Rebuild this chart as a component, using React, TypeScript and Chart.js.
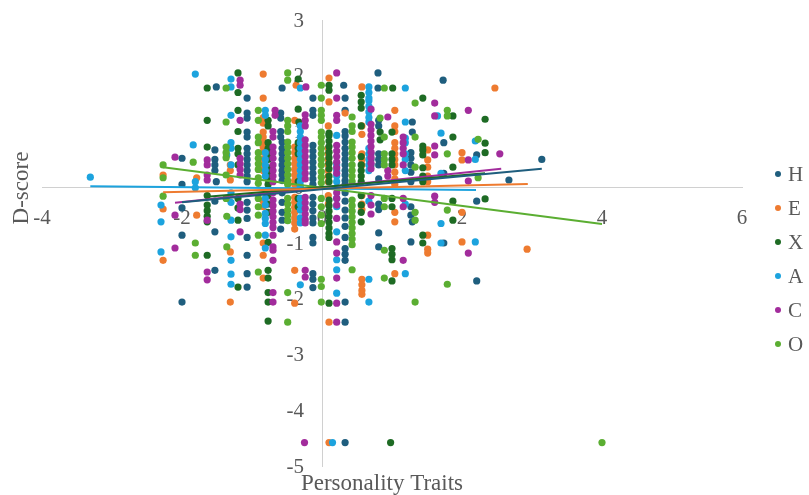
import { useEffect, useRef } from "react";
import { Chart, registerables } from "chart.js";

Chart.register(...registerables);

const FONT = "'Liberation Serif', 'Times New Roman', serif";
const TEXT_COLOR = "#595959";

const seriesNames = ["H", "E", "X", "A", "C", "O"];
const seriesColors = ["#1F5E7E", "#EE7B30", "#1E6B24", "#1CA3DE", "#A22C9C", "#5BAE32"];

const xTicks = [-4, -2, 0, 2, 4, 6];
const yTicks = [-5, -4, -3, -2, -1, 0, 1, 2, 3];

const xTitle = "Personality Traits";
const yTitle = "D-score";

const pointsH: number[][] = [
  [-1.51, 1.8], [-0.57, 1.78], [0.31, 1.83], [0.8, 2.05], [0.8, 1.78], [1.73, 1.92],
  [-0.13, 1.6], [-0.13, 1.38], [-0.13, 1.29], [-1.07, 1.33], [-1.07, 1.24], [-0.59, 1.33], [-0.59, 1.24],
  [1.29, 1.17], [1.29, 0.99], [0.33, 1.38], [0.81, 1.2], [0.81, 1.1], [-1.07, 0.99], [-1.07, 0.9],
  [-1.07, 0.7], [-1.07, 0.6], [-1.07, 0.5], [-1.07, 0.4], [-1.07, 0.3],
  [-0.57, 0.81], [-0.57, 0.7], [-0.57, 0.6], [-0.57, 0.5], [-0.57, 0.4], [-0.57, 0.3], [-0.57, 0.22],
  [-0.13, 0.75], [-0.13, 0.65], [-0.13, 0.55], [-0.13, 0.45], [-0.13, 0.35], [-0.13, 0.25],
  [0.33, 0.81], [0.33, 0.7], [0.33, 0.6], [0.33, 0.5], [0.33, 0.4], [0.33, 0.3], [0.33, 0.22],
  [0.7, 0.6], [0.7, 0.5], [0.7, 0.4],
  [1.27, 0.62], [1.27, 0.52], [1.27, 0.4], [1.27, 0.27],
  [-2.0, 0.52], [-1.53, 0.67], [1.74, 0.25], [2.21, 0.58], [2.67, 0.13], [3.14, 0.5], [1.74, 0.8],
  [-1.51, 0.1], [0.81, 0.15],
  [-0.57, -0.27], [-0.57, -0.45], [-0.57, -0.59],
  [-0.13, -0.18], [-0.13, -0.3], [-0.13, -0.42], [-0.13, -0.55], [-0.13, -0.64],
  [0.33, -0.41], [0.33, -0.55], [0.33, -0.7], [0.33, -1.1], [0.33, -1.2], [0.33, -1.31],
  [-2.0, -0.37], [-2.0, -0.86], [-2.0, -2.06], [-1.53, -0.8], [-1.53, -1.49],
  [-1.07, -0.27], [-1.07, -0.41], [-1.07, -0.56], [-1.07, -1.22], [-1.07, -1.55], [-1.07, -1.79],
  [0.81, -0.82], [0.81, -1.07], [1.27, -0.98], [1.29, -0.62], [1.74, -1.0], [2.21, -1.68],
  [-0.13, -1.55], [-0.13, -1.65], [-0.13, -1.8], [0.33, -2.06], [0.33, -2.42], [0.33, -4.58],
  [-1.53, 0.5], [-1.53, 0.4], [-1.53, 0.3], [-0.57, 0.12], [-0.13, 0.15], [-0.13, 0.05], [0.33, 0.12], [0.33, 0.05],
  [-1.07, 0.2], [-1.07, 0.1], [0.81, 0.6], [0.81, 0.5], [0.81, 0.4], [-0.59, 1.0], [-0.59, 0.9], [0.33, 1.0], [0.33, 0.92],
  [-1.07, 1.6], [0.33, 1.6], [1.27, 0.1], [-0.57, -0.1], [0.33, -0.1], [0.33, -0.25], [-1.53, -0.25], [0.81, -0.3],
  [0.81, -0.4], [-0.59, -0.75], [-0.13, -0.9], [-0.13, -1.0], [0.33, -0.9], [-1.07, -0.9], [1.27, -0.35], [1.27, -0.5],
  [2.21, -0.25], [-2.0, 0.05],
];

const pointsE: number[][] = [
  [-0.84, 2.03], [-0.37, 1.83], [0.1, 1.96], [0.57, 1.8], [2.47, 1.78], [-0.84, 1.6], [0.1, 1.53], [0.33, 1.33], [1.04, 1.38],
  [-0.84, 0.99], [-0.84, 0.9], [-0.84, 0.81], [-0.84, 0.72], [-0.84, 0.63],
  [-1.31, 0.72],
  [-0.39, 0.72], [-0.39, 0.62], [-0.39, 0.52], [-0.39, 0.42], [-0.39, 0.32], [-0.39, 0.22],
  [0.09, 0.7], [0.09, 0.6], [0.09, 0.5], [0.09, 0.4], [0.09, 0.3],
  [1.04, 0.8], [1.04, 0.7], [1.04, 0.6], [1.04, 0.5], [1.04, 0.4], [1.04, 0.27],
  [1.51, 0.67], [1.51, 0.49], [1.51, 0.36], [2.0, 0.62], [2.0, 0.49],
  [-2.27, 0.22], [-2.27, -0.39], [-2.27, -1.31], [-1.79, 0.17], [-1.31, 0.13], [2.93, -1.11],
  [-0.39, -0.18], [-0.39, -0.27], [-0.39, -0.36], [-0.39, -0.45], [-0.39, -0.55], [-0.39, -0.64], [-0.39, -1.49], [-0.39, -2.08],
  [-0.84, -1.0], [-0.84, -1.22], [-0.84, -1.63],
  [-1.31, -1.16], [-1.31, -2.06],
  [0.57, -1.65], [0.57, -1.75], [0.57, -1.85], [0.57, -1.92],
  [1.04, -1.55], [1.04, -0.45], [1.04, -0.62],
  [1.51, -0.86], [1.51, -1.11], [1.51, -1.18],
  [2.0, -0.45], [2.0, -0.98],
  [0.1, -2.42], [0.1, -4.58], [0.57, -0.3], [0.57, -0.4],
  [0.57, 1.1], [0.57, 0.95], [-0.39, 1.2], [0.09, 1.1],
  [-0.84, 0.5], [-0.84, 0.4], [-0.84, 0.3], [-0.39, 0.12], [-0.39, 0.05], [0.09, 0.2], [0.09, 0.1], [1.04, 0.15],
  [1.04, 0.05], [-1.31, 0.4], [-1.31, 0.3], [0.57, 0.6], [0.57, 0.5], [0.57, 0.4], [-0.84, 1.15], [-0.84, 1.25],
  [1.04, 1.1], [1.04, 1.0], [-0.39, -0.75], [-0.84, -0.25], [-0.84, -0.35], [0.09, -0.15], [0.09, -0.3], [0.57, -0.15],
  [1.51, 0.2], [1.51, 0.1], [-1.79, -0.5],
];

const pointsX: number[][] = [
  [-1.2, 2.05], [-0.34, 1.94], [-1.64, 1.78], [0.1, 1.83], [0.1, 1.74], [1.01, 1.78], [1.44, 1.6], [-1.2, 1.38], [-1.64, 1.2],
  [0.56, 1.53], [0.56, 1.42], [-0.33, 1.17], [1.87, 1.28], [2.33, 1.22], [0.1, 0.97], [0.83, 0.99], [0.83, 0.85], [1.0, 0.99], [1.87, 0.9], [2.33, 0.79],
  [-0.77, 0.8], [-0.77, 0.7], [-0.77, 0.6], [-0.77, 0.5], [-0.77, 0.35],
  [0.1, 0.93], [0.1, 0.83], [0.1, 0.73], [0.1, 0.63], [0.1, 0.53],
  [0.56, 0.55], [0.56, 0.4], [1.44, 0.74], [1.44, 0.67], [1.44, 0.58], [1.44, 0.35],
  [-1.64, 0.72], [-1.2, 0.4], [1.87, 0.36], [2.33, 0.62],
  [-1.64, -0.32], [-1.64, -0.42], [-1.64, -0.52], [-1.64, -0.62], [-1.64, -1.22],
  [-1.2, -0.37], [-1.2, -0.59], [-1.2, -1.79],
  [0.1, -0.23], [0.1, -0.33], [0.1, -0.43], [0.1, -0.53], [0.1, -0.63], [0.1, -0.73], [0.1, -0.83], [0.1, -0.9], [0.1, -2.08],
  [0.56, -0.32], [0.56, -0.45], [0.56, -0.62],
  [1.0, -1.1], [1.0, -1.2], [1.0, -1.3], [1.0, -1.68],
  [-0.77, -0.99], [-0.77, -1.49], [-0.77, -1.63], [-0.77, -1.89], [-0.77, -2.06], [-0.77, -2.4],
  [1.87, -0.25], [1.87, -0.59], [2.33, -0.21], [1.44, -0.86], [1.44, -1.0], [0.98, -4.58],
  [-0.34, 1.4], [-0.34, 0.1], [0.56, 1.1], [-1.2, 1.0],
  [-0.77, 0.25], [-0.77, 0.15], [-0.77, 0.05], [0.1, 0.43], [0.1, 0.33], [0.1, 0.2], [0.1, 0.1], [0.56, 0.3],
  [0.56, 0.2], [0.56, 0.1], [-1.2, 0.6], [-1.2, 0.7], [-0.34, 0.8], [-0.34, 0.7], [-0.34, 0.6], [1.0, 0.6],
  [1.0, 0.5], [1.0, 0.4], [1.44, 0.2], [1.44, 0.1], [-0.77, 1.2], [-0.77, 1.1], [-1.2, 1.7], [0.56, 1.65],
  [-0.77, -0.15], [-0.77, -0.3], [-0.77, -0.45], [-0.34, -0.2], [-0.34, -0.35], [0.56, -0.15], [1.0, -0.2], [1.0, -0.35],
  [-1.64, -0.15], [-1.2, -0.2],
];

const pointsA: number[][] = [
  [-1.81, 2.03], [-1.3, 1.94], [-0.31, 1.78], [1.19, 1.78], [0.67, 1.6], [-1.3, 1.29], [-0.81, 1.38], [-0.81, 1.29], [1.19, 1.17], [1.7, 0.97], [2.19, 0.83], [1.65, 1.28], [-1.84, 0.76], [-1.36, 0.58], [-3.31, 0.18], [-1.81, -0.01],
  [0.67, 1.55], [0.67, 1.45], [0.67, 1.35], [0.67, 1.25], [0.67, 1.17],
  [-0.31, 0.9], [-0.31, 0.8], [-0.31, 0.7], [-0.31, 0.6], [-0.31, 0.5], [-0.31, 0.4], [-0.31, 0.3], [-0.31, 0.2], [-0.31, 0.1],
  [-0.81, 0.62], [-0.81, 0.5], [0.21, 0.93], [1.19, 0.88], [1.19, 0.8], [2.19, 0.5],
  [-2.3, -0.32], [-2.3, -0.62], [-2.3, -1.16],
  [-1.3, -0.27], [-1.3, -0.59], [-1.3, -0.89], [-1.3, -1.31], [-1.3, -1.56], [-1.3, -1.74],
  [-0.81, -0.47], [-0.81, -0.56], [-0.81, -0.65], [-0.81, -0.86], [-0.81, -1.09],
  [-0.31, -0.41], [-0.31, -0.55], [-0.31, -0.64], [-0.31, -1.75],
  [0.21, -0.8], [0.21, -1.3], [0.21, -1.48], [0.21, -1.9],
  [0.67, -1.65], [0.67, -2.06], [1.19, -1.55], [1.7, -0.65], [1.7, -1.0], [2.19, -0.98], [0.15, -4.58],
  [0.67, 0.7], [0.67, 0.6], [0.21, 0.4], [0.21, 0.3], [1.7, 0.25],
  [-0.81, 0.4], [-0.81, 0.3], [-0.81, 0.2], [-0.31, 0.02], [0.21, 0.2], [0.21, 0.1], [0.67, 0.5], [0.67, 0.4],
  [0.67, 0.3], [1.19, 0.6], [1.19, 0.5], [1.19, 0.3], [-1.3, 0.8], [-1.3, 0.7], [-1.3, 0.4], [-0.31, 1.0],
  [-0.31, 1.1], [-1.3, 1.8], [0.67, 1.7], [0.67, 1.8], [-0.81, -0.2], [-0.81, -0.32], [-0.31, -0.2], [-0.31, -0.3],
  [0.21, -0.2], [0.21, -0.35], [0.67, -0.25], [1.19, -0.3], [-1.3, -0.1], [-1.81, 0.1],
];

const pointsC: number[][] = [
  [-1.17, 1.92], [-1.17, 1.83], [-0.23, 1.8], [0.21, 2.05], [0.21, 1.6], [-0.67, 1.38], [-0.67, 1.29], [-1.17, 1.2], [1.61, 1.51], [1.61, 1.28], [2.09, 1.38], [0.94, 1.26], [0.21, 1.29], [0.21, 1.2], [2.54, 0.6], [2.09, 0.49], [2.09, 0.11], [1.61, 0.74], [1.61, 0.58], [-2.1, 0.54], [-1.64, 0.49], [-1.64, 0.4], [-1.64, 0.22], [-1.64, 0.13],
  [-0.24, 0.85], [-0.24, 0.75], [-0.24, 0.65], [-0.24, 0.55], [-0.24, 0.45],
  [0.21, 0.75], [0.21, 0.65], [0.21, 0.55],
  [0.7, 1.03], [0.7, 0.93], [0.7, 0.83], [0.7, 0.73], [0.7, 0.63],
  [1.16, 0.7], [1.16, 0.6], [1.16, 0.4], [0.94, 0.3], [0.94, 0.2],
  [-0.7, 0.72], [-0.7, 0.62], [-0.7, 0.52], [-0.7, 0.4], [-1.17, 0.52], [-1.17, 0.42],
  [-0.24, -0.18], [-0.24, -0.28], [-0.24, -0.38], [-0.24, -0.48], [-0.24, -0.58], [-0.24, -0.64], [-0.24, -1.49], [-0.24, -1.61],
  [-0.7, -0.23], [-0.7, -0.33], [-0.7, -0.43], [-0.7, -0.53], [-0.7, -0.63], [-0.7, -0.72], [-0.7, -0.86], [-0.7, -1.07], [-0.7, -1.13], [-0.7, -1.31], [-0.7, -1.89], [-0.7, -2.06],
  [-1.64, -0.59], [-1.64, -1.52], [-1.64, -1.66], [-2.1, -0.5], [-2.1, -1.09], [-1.17, -0.8],
  [0.21, -0.32], [0.21, -0.56], [0.21, -0.98], [0.21, -1.18], [0.21, -1.63], [0.21, -2.08], [0.21, -2.42],
  [0.7, -0.32], [0.7, -0.48], [1.16, -1.31], [1.61, -0.16], [1.61, -0.27], [2.09, -1.18], [-0.25, -4.58],
  [-0.24, 0.35], [-0.24, 0.25], [-0.24, 0.15], [0.21, 0.45], [0.21, 0.35], [0.21, 0.25], [0.7, 0.53], [0.7, 0.43],
  [0.7, 0.33], [-0.7, 0.3], [-0.7, 0.2], [-0.7, 0.1], [-1.17, 0.32], [-1.17, 0.22], [1.16, 0.8], [1.16, 0.9],
  [-0.24, 1.2], [-0.24, 1.1], [-0.24, 1.3], [0.7, 1.13], [0.7, 1.4], [-0.7, 1.0], [-0.7, 0.9], [0.21, -0.1],
  [0.21, -0.2], [-0.7, -0.1], [0.7, -0.15], [1.16, -0.2], [1.16, -0.35], [-1.17, -0.3], [-1.17, -0.4],
];

const pointsO: number[][] = [
  [-0.49, 2.05], [-0.49, 1.92], [-1.37, 1.78], [-0.01, 1.83], [0.89, 1.78], [-0.91, 1.38], [-1.37, 1.17], [-0.91, 1.2], [-0.01, 1.6], [0.43, 1.26], [0.83, 1.24], [1.33, 1.51], [1.79, 1.38], [1.79, 1.28], [2.23, 0.86], [-2.27, 0.4], [-1.84, 0.45], [-1.37, 0.22], [-2.27, -0.16], [-2.27, 0.17],
  [-0.49, 0.81], [-0.49, 0.72], [-0.49, 0.62], [-0.49, 0.52], [-0.49, 0.42], [-0.49, 0.32], [-0.49, 0.22],
  [-0.01, 1.38], [-0.01, 1.29], [-0.01, 1.2], [-0.01, 0.99], [-0.01, 0.9], [-0.01, 0.8], [-0.01, 0.7], [-0.01, 0.6], [-0.01, 0.5], [-0.01, 0.4], [-0.01, 0.28],
  [0.43, 0.81], [0.43, 0.72], [0.43, 0.62], [0.43, 0.52], [0.43, 0.4],
  [-0.91, 0.62], [-0.91, 0.52], [-0.91, 0.42], [-0.91, 0.32], [-0.91, 0.17],
  [-1.37, 0.53], [0.89, 0.9], [1.79, 0.6], [1.33, 0.36], [2.23, 0.17],
  [-0.49, -0.41], [-0.49, -0.5], [-0.49, -0.6], [-0.49, -1.89], [-0.49, -2.42],
  [-0.01, -0.2], [-0.01, -0.35], [-0.01, -1.65], [-0.01, -1.78], [-0.01, -2.06],
  [0.43, -0.23], [0.43, -0.33], [0.43, -0.43], [0.43, -0.53], [0.43, -0.63], [0.43, -0.73], [0.43, -0.83], [0.43, -0.93], [0.43, -1.03], [0.43, -1.48],
  [-0.91, -0.5], [-0.91, -0.86], [-0.91, -1.52], [-1.81, -1.0], [-1.81, -1.22], [-1.36, -0.52], [-1.36, -1.07],
  [0.89, -1.13], [0.89, -1.63], [1.33, -0.45], [1.33, -0.59], [1.33, -2.06], [1.79, -0.41], [1.79, -1.74], [4.0, -4.58],
  [-0.49, 0.12], [-0.49, 0.05], [-0.01, 0.18], [-0.01, 0.08], [0.43, 0.3], [0.43, 0.2], [0.43, 0.1], [-0.91, 0.07],
  [-1.37, 0.62], [-1.37, 0.72], [0.89, 0.6], [0.89, 0.5], [0.89, 0.4], [-0.49, 1.0], [-0.49, 1.1], [-0.49, 1.2],
  [0.43, 1.0], [0.43, 1.1], [-0.91, 0.8], [-0.91, 0.9], [-0.49, -0.2], [-0.49, -0.3], [-0.01, -0.5], [-0.01, -0.65],
  [-0.91, -0.2], [-0.91, -0.35], [0.89, -0.2], [0.89, -0.35], [-1.37, -0.2], [1.33, 0.9],
];

// Linear trendline endpoints: [x, y] start and end
const trendH: number[][] = [[-2.0, -0.27], [3.14, 0.33]];
const trendE: number[][] = [[-2.27, -0.09], [2.94, 0.06]];
const trendX: number[][] = [[-1.64, -0.17], [2.33, 0.25]];
const trendA: number[][] = [[-3.31, 0.02], [2.2, -0.05]];
const trendC: number[][] = [[-2.1, -0.28], [2.56, 0.33]];
const trendO: number[][] = [[-2.27, 0.36], [4.0, -0.66]];

const allPoints = [pointsH, pointsE, pointsX, pointsA, pointsC, pointsO];
const allTrends = [trendH, trendE, trendX, trendA, trendC, trendO];

const toXY = (arr: number[][]) => arr.map(([x, y]) => ({ x, y }));

const labelsPlugin = {
  id: "customLabels",
  beforeDatasetsDraw(chart: any) {
    const { ctx, scales } = chart;
    const xs = scales.x;
    const ys = scales.y;
    const x0 = xs.getPixelForValue(0);
    const y0 = ys.getPixelForValue(0);
    ctx.save();
    ctx.fillStyle = TEXT_COLOR;
    ctx.font = `21px ${FONT}`;
    ctx.textAlign = "right";
    ctx.textBaseline = "middle";
    yTicks.forEach((v) => ctx.fillText(String(v), x0 - 18, ys.getPixelForValue(v) + 1));
    ctx.textAlign = "center";
    xTicks.forEach((v) => ctx.fillText(String(v), xs.getPixelForValue(v), y0 + 31));
    ctx.font = `23px ${FONT}`;
    ctx.fillText(xTitle, 382, 484);
    ctx.translate(22, 188);
    ctx.rotate(-Math.PI / 2);
    ctx.fillText(yTitle, 0, 0);
    ctx.restore();
  },
  afterDraw(chart: any) {
    const { ctx } = chart;
    ctx.save();
    ctx.font = `21px ${FONT}`;
    ctx.textAlign = "left";
    ctx.textBaseline = "middle";
    seriesNames.forEach((name, i) => {
      const cy = 174 + i * 34;
      ctx.fillStyle = seriesColors[i];
      ctx.beginPath();
      ctx.arc(778, cy, 3, 0, Math.PI * 2);
      ctx.fill();
      ctx.fillStyle = TEXT_COLOR;
      ctx.fillText(name, 788, cy + 1);
    });
    ctx.restore();
  },
};

export default function App() {
  const canvasRef = useRef<HTMLCanvasElement | null>(null);

  useEffect(() => {
    document.body.style.margin = "0";
    const canvas = canvasRef.current;
    if (!canvas) return;

    const pointSets: any[] = allPoints.map((pts, i) => ({
      type: "scatter",
      label: seriesNames[i],
      data: toXY(pts),
      backgroundColor: seriesColors[i],
      borderWidth: 0,
      pointRadius: 3.6,
      pointHoverRadius: 3.6,
      order: 10 - i,
    }));
    const trendSets: any[] = allTrends.map((t, i) => ({
      type: "line",
      label: seriesNames[i] + " trend",
      data: toXY(t),
      borderColor: seriesColors[i],
      borderWidth: 2,
      pointRadius: 0,
      fill: false,
      showLine: true,
      order: 0,
    }));

    const chart = new Chart(canvas, {
      type: "scatter",
      data: { datasets: [...trendSets, ...pointSets] },
      options: {
        animation: false,
        responsive: false,
        layout: { padding: { left: 42, right: 67, top: 20, bottom: 29 } },
        plugins: {
          legend: { display: false },
          tooltip: { enabled: false },
        },
        scales: {
          x: {
            type: "linear",
            min: -4,
            max: 6,
            position: { y: 0 } as any,
            grid: { display: false, drawTicks: false },
            border: { display: true, color: "#d0d0d0", width: 1 },
            ticks: { display: false, stepSize: 2 },
          },
          y: {
            type: "linear",
            min: -5,
            max: 3,
            position: { x: 0 } as any,
            grid: { display: false, drawTicks: false },
            border: { display: true, color: "#d0d0d0", width: 1 },
            ticks: { display: false, stepSize: 1 },
          },
        },
      },
      plugins: [labelsPlugin],
    });

    return () => chart.destroy();
  }, []);

  return (
    <div style={{ position: "absolute", left: 0, top: 0, width: 809, height: 495 }}>
      <canvas ref={canvasRef} width={809} height={495} />
    </div>
  );
}
